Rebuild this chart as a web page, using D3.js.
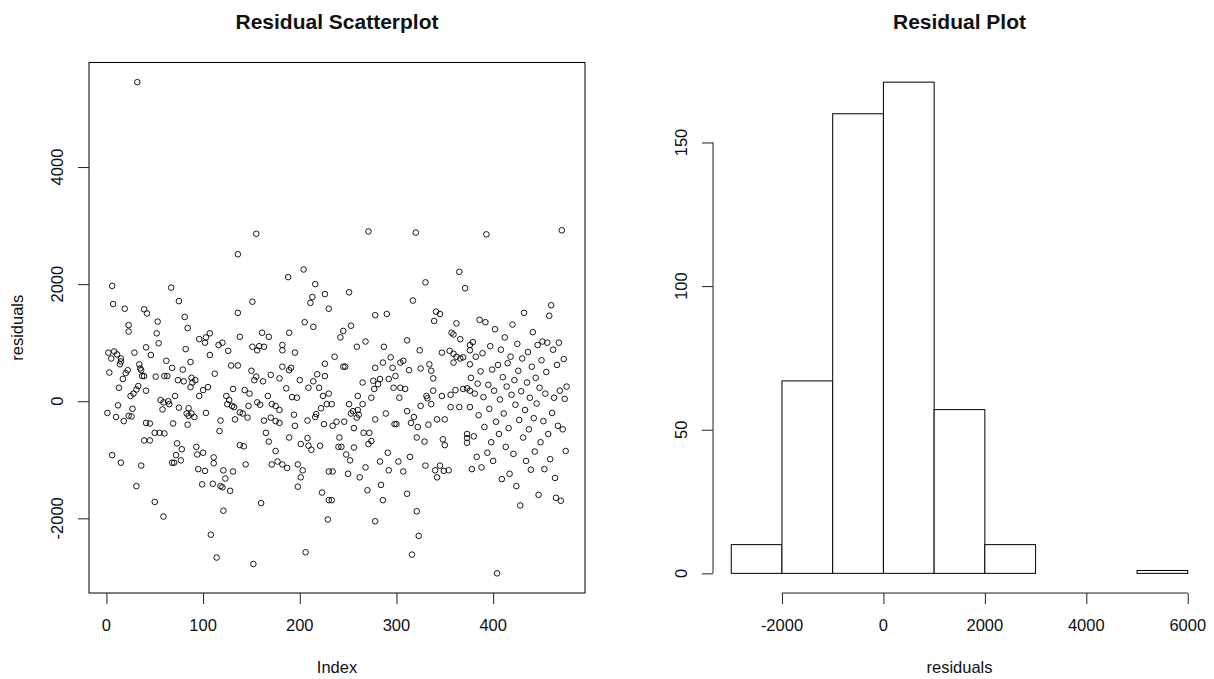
<!DOCTYPE html>
<html>
<head>
<meta charset="utf-8">
<script src="https://cdn.jsdelivr.net/npm/d3@7"></script>
<style>
  html, body { margin: 0; padding: 0; background: #fff; }
  svg text { font-family: "Liberation Sans", Arial, Helvetica, sans-serif; fill: #111; }
</style>
</head>
<body>
<svg id="chart" width="1214" height="679"></svg>
<script>
// Residuals by observation index: [index, residual]
const residualsByIndex = [
  [1,-200],[2,830],[3,490],[5,730],[6,1970],[6,-920],[7,1660],[8,850],[10,-270],[11,800],[12,-70],[13,230],[14,630],[15,730],[15,680],[15,-1050],[17,380],[18,-340],[19,1580],[20,480],[22,530],[23,1300],[23,1190],[23,-250],[25,90],[26,-260],[27,-130],[28,130],[29,830],[31,200],[31,-1450],[32,5450],[33,260],[34,630],[35,560],[36,530],[36,-1100],[37,430],
  [39,1570],[39,430],[39,-670],[41,920],[41,180],[41,-370],[42,1500],[45,-380],[45,-670],[46,790],[50,-540],[50,-1720],[51,420],[52,1160],[53,1360],[54,990],[55,-540],[56,20],[58,-140],[59,-20],[59,-1970],[60,430],[60,-550],[62,690],[63,430],[64,0],[65,-50],[67,1940],[68,570],[68,-1050],[69,-380],[70,-1050],[71,90],[72,-920],[73,-720],[74,360],[75,1710],[75,-110],[77,-1010],[78,-820],[79,540],[80,340],[81,1440],[82,890],[83,-210],[84,1250],[84,-400],[85,-120],[85,-250],[87,670],[87,240],
  [88,400],[88,-210],[89,320],[91,-270],[92,360],[93,-780],[94,-910],[95,-1160],[96,1060],[96,90],[99,-1420],[100,190],[100,-880],[102,1000],[102,-1190],[103,1090],[103,-200],[105,240],[107,1160],[107,790],[108,-2280],[110,-1410],[111,-960],[111,-1060],[112,470],[114,-2670],[116,960],[117,-510],[118,-330],[118,-1450],[120,1000],[120,-1470],[121,-1180],[121,-1870],[123,-1320],[124,90],[125,-50],[126,860],[127,20],[128,-1530],[129,610],[130,-80],[131,210],[131,-1200],[132,-100],[133,-310],
  [136,2510],[136,1510],[136,610],[138,1100],[138,-190],[138,-750],[141,-210],[142,-770],[143,190],[144,-1080],[146,-280],[147,-80],[148,130],[150,520],[151,1700],[151,930],[152,-2780],[153,360],[155,2860],[155,420],[156,870],[156,-20],[158,940],[159,-60],[160,-1740],[161,1170],[162,340],[163,930],[163,-330],[165,-540],[167,90],[168,1100],[168,-690],[170,450],[170,-280],[171,-50],[171,-1080],[175,-80],[175,-340],[175,-850],[177,-1030],[179,390],[179,-150],[179,-370],[182,960],[182,870],[182,590],[182,-1080],
  [186,220],[187,-1140],[188,2120],[189,1170],[189,530],[189,-620],[191,570],[192,70],[194,-230],[195,830],[195,-420],[197,60],[198,-1080],[198,-1460],[200,360],[201,-730],[201,-1300],[203,-1180],[204,2250],[205,1350],[206,-2580],[208,-330],[208,-630],[209,230],[209,-760],[211,1680],[212,-830],[213,1780],[214,1270],[214,340],[216,2000],[216,-270],[217,-220],[218,460],[220,230],[221,-760],[222,-120],[223,-1560],[224,90],[225,-390],[226,1830],[226,640],[226,430],[228,-50],[229,-2020],[230,1580],[230,130],[230,-1200],[230,-1690],
  [233,-50],[233,-1690],[234,-420],[234,-1200],[236,760],[238,-350],[240,-780],[241,-620],[242,1090],[243,-780],[245,1200],[245,590],[246,-350],[247,590],[248,-910],[250,-1240],[251,1860],[251,-50],[252,-1010],[253,1290],[253,-210],[255,-170],[256,-460],[256,-790],[259,930],[259,-280],[260,90],[260,-150],[261,-230],[262,-1300],[265,320],[265,-50],[266,-540],[268,1020],[268,-1130],[270,-1520],[271,2900],[271,-730],[272,-540],[274,60],[274,-680],[276,350],[277,210],[278,1470],[278,570],[278,-310],[278,-2050],
  [281,290],[283,380],[283,-1030],[284,-1430],[286,660],[286,-1690],[287,930],[289,-210],[290,1490],[291,-880],[292,380],[292,-1180],[294,750],[296,570],[297,230],[298,-390],[299,430],[300,-390],[302,-1030],[303,60],[304,660],[304,230],[307,690],[307,-1200],[309,210],[311,1040],[311,-170],[311,-1580],[313,530],[314,-950],[315,-370],[316,-2620],[317,1720],[318,-270],[320,2880],[321,-620],[321,-1880],[322,-440],[323,-2300],[324,870],[325,560],[325,-80],
  [329,-690],[330,2030],[330,-1100],[331,90],[332,50],[333,-400],[334,630],[336,520],[336,-50],[338,390],[338,180],[339,1370],[340,-1180],[341,1530],[342,-310],[342,-1300],[345,1490],[345,-1100],[347,830],[347,90],[348,-650],[349,-1190],[350,-310],[350,-750],[354,-1180],[355,860],[356,110],[356,-100],[357,1170],[359,1140],[359,810],[359,660],[361,190],[362,1330],[362,760],[365,2210],[365,-100],[366,1060],[366,730],[369,750],[369,210],[371,1930],[373,220],[373,-560],[373,-630],[373,-710],[376,960],[376,870],[376,630],[376,180],[376,-100],
  [377,400],[378,-1160],[379,1010],[380,-600],[381,130],[382,760],[383,-950],[384,300],[385,-240],[386,1390],[387,510],[388,-1130],[389,820],[390,70],[391,-440],[392,1350],[393,2850],[394,-880],[395,280],[396,-130],[397,940],[398,-700],[399,540],[400,-1020],
  [401,180],[402,1230],[403,-350],[404,-2940],[405,620],[406,-560],[407,30],[408,880],[409,-1330],[410,410],[411,-210],[412,1090],[413,-780],[414,250],[415,650],[416,-460],[417,-1240],[418,760],[419,110],[420,1310],[421,-900],[422,360],[423,-60],[424,-1450],[425,980],
  [426,520],[427,-320],[428,-1780],[429,170],[430,730],[431,-620],[432,1510],[433,-150],[434,-1020],[435,320],[436,840],[437,-480],[438,60],[439,-1170],[440,590],[441,1180],[442,-290],[443,-860],[444,400],[445,-40],[446,960],[447,-1600],[448,230],[449,-700],[450,700],
  [451,1020],[452,-340],[453,-1160],[454,130],[455,500],[456,1000],[457,-560],[458,1460],[459,-990],[460,1640],[461,-200],[462,880],[463,60],[464,-1310],[465,-1650],[466,620],[467,-420],[468,1000],[469,180],[470,-1700],[471,2920],[472,-480],[473,720],[474,40],[475,-850],[476,250]
];

// Histogram of the residuals
const binBreaks = [-3000, -2000, -1000, 0, 1000, 2000, 3000, 4000, 5000, 6000];
const binCounts = [10, 67, 160, 171, 57, 10, 0, 0, 1];

// Axis ticks
const indexTicks = [0, 100, 200, 300, 400];
const residualTicks = [-2000, 0, 2000, 4000];
const histXTicks = [-2000, 0, 2000, 4000, 6000];
const histYTicks = [0, 50, 100, 150];

const svg = d3.select("#chart");
svg.append("rect").attr("width", 1214).attr("height", 679).attr("fill", "#fff");

const FONT = 16.5;
const TITLE = 21;
const TICK = 11;

// R-style range padding (4% on each side)
function padded(lo, hi) {
  const r = hi - lo;
  return [lo - 0.04 * r, hi + 0.04 * r];
}

function leftLabels(g, scale, ticks, xCenter) {
  g.selectAll(null).data(ticks).enter().append("text")
    .attr("transform", d => `translate(${xCenter},${scale(d)}) rotate(-90)`)
    .attr("text-anchor", "middle")
    .attr("dominant-baseline", "central")
    .style("font-size", FONT + "px")
    .text(d => d);
}

function bottomLabels(g, scale, ticks, yCenter) {
  g.selectAll(null).data(ticks).enter().append("text")
    .attr("x", d => scale(d))
    .attr("y", yCenter)
    .attr("text-anchor", "middle")
    .attr("dominant-baseline", "central")
    .style("font-size", FONT + "px")
    .text(d => d);
}

// ---------- Left panel: residuals against index ----------
const L = { left: 89, right: 585, top: 62.5, bottom: 593 };
const nObs = d3.sum(binCounts);
const x = d3.scaleLinear().domain(padded(1, nObs)).range([L.left, L.right]);
const yExt = d3.extent(residualsByIndex, d => d[1]);
const y = d3.scaleLinear().domain(padded(yExt[0], yExt[1])).range([L.bottom, L.top]);

const left = svg.append("g");

left.append("g")
  .selectAll("circle").data(residualsByIndex).enter().append("circle")
  .attr("cx", d => x(d[0]))
  .attr("cy", d => y(d[1]))
  .attr("r", 2.8)
  .attr("fill", "none")
  .attr("stroke", "#000")
  .attr("stroke-width", 0.9);

left.append("rect")
  .attr("x", L.left).attr("y", L.top)
  .attr("width", L.right - L.left).attr("height", L.bottom - L.top)
  .attr("fill", "none").attr("stroke", "#000").attr("stroke-width", 1);

const lxAxis = left.append("g").attr("transform", `translate(0,${L.bottom})`)
  .call(d3.axisBottom(x).tickValues(indexTicks).tickSize(TICK).tickSizeOuter(0).tickFormat(""));
lxAxis.select(".domain").remove();
lxAxis.selectAll("line").attr("stroke", "#222");

const lyAxis = left.append("g").attr("transform", `translate(${L.left},0)`)
  .call(d3.axisLeft(y).tickValues(residualTicks).tickSize(TICK).tickSizeOuter(0).tickFormat(""));
lyAxis.select(".domain").remove();
lyAxis.selectAll("line").attr("stroke", "#222");

bottomLabels(left, x, indexTicks, 625);
leftLabels(left, y, residualTicks, 57);

left.append("text").attr("x", (L.left + L.right) / 2).attr("y", 667)
  .attr("text-anchor", "middle").attr("dominant-baseline", "central")
  .style("font-size", FONT + "px").text("Index");
left.append("text")
  .attr("transform", `translate(17,${(L.top + L.bottom) / 2}) rotate(-90)`)
  .attr("text-anchor", "middle").attr("dominant-baseline", "central")
  .style("font-size", FONT + "px").text("residuals");
left.append("text").attr("x", (L.left + L.right) / 2).attr("y", 21)
  .attr("text-anchor", "middle").attr("dominant-baseline", "central")
  .style("font-size", TITLE + "px").style("font-weight", "bold").text("Residual Scatterplot");

// ---------- Right panel: histogram of residuals ----------
const R = { left: 713, right: 1206, top: 62.5, bottom: 593 };
const bins = binCounts.map((c, i) => ({ x0: binBreaks[i], x1: binBreaks[i + 1], count: c }));
const hx = d3.scaleLinear().domain(padded(binBreaks[0], binBreaks[binBreaks.length - 1])).range([R.left, R.right]);
const hy = d3.scaleLinear().domain(padded(0, d3.max(binCounts))).range([R.bottom, R.top]);

const right = svg.append("g");

right.append("g").selectAll("rect").data(bins).enter().append("rect")
  .attr("x", d => hx(d.x0))
  .attr("y", d => hy(d.count))
  .attr("width", d => hx(d.x1) - hx(d.x0))
  .attr("height", d => hy(0) - hy(d.count))
  .attr("fill", "#fff")
  .attr("stroke", "#000")
  .attr("stroke-width", 1);

const hxAxis = right.append("g").attr("transform", `translate(0,${R.bottom})`)
  .call(d3.axisBottom(hx).tickValues(histXTicks).tickSize(TICK).tickSizeOuter(0).tickFormat(""));
hxAxis.select(".domain").remove();
hxAxis.selectAll("line").attr("stroke", "#222");
right.append("line")
  .attr("x1", hx(histXTicks[0])).attr("x2", hx(histXTicks[histXTicks.length - 1]))
  .attr("y1", R.bottom).attr("y2", R.bottom).attr("stroke", "#222");

const hyAxis = right.append("g").attr("transform", `translate(${R.left},0)`)
  .call(d3.axisLeft(hy).tickValues(histYTicks).tickSize(TICK).tickSizeOuter(0).tickFormat(""));
hyAxis.select(".domain").remove();
hyAxis.selectAll("line").attr("stroke", "#222");
right.append("line")
  .attr("x1", R.left).attr("x2", R.left)
  .attr("y1", hy(histYTicks[0])).attr("y2", hy(histYTicks[histYTicks.length - 1])).attr("stroke", "#222");

bottomLabels(right, hx, histXTicks, 625);
leftLabels(right, hy, histYTicks, R.left - 32);

right.append("text").attr("x", (R.left + R.right) / 2).attr("y", 667)
  .attr("text-anchor", "middle").attr("dominant-baseline", "central")
  .style("font-size", FONT + "px").text("residuals");
right.append("text").attr("x", (R.left + R.right) / 2).attr("y", 21)
  .attr("text-anchor", "middle").attr("dominant-baseline", "central")
  .style("font-size", TITLE + "px").style("font-weight", "bold").text("Residual Plot");
</script>
</body>
</html>
